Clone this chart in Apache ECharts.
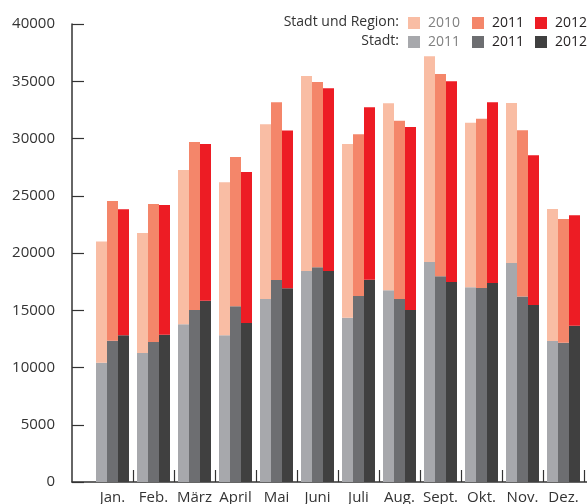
<!DOCTYPE html>
<html>
<head>
<meta charset="utf-8">
<script src="https://cdn.jsdelivr.net/npm/echarts@6/dist/echarts.min.js"></script>
<style>
  html, body { margin: 0; padding: 0; background: #fff; }
  #chart { width: 587px; height: 504px; }
</style>
</head>
<body>
<div id="chart"></div>
<script>
// Monate
const months = ['Jan.', 'Feb.', 'März', 'April', 'Mai', 'Juni', 'Juli', 'Aug.', 'Sept.', 'Okt.', 'Nov.', 'Dez.']

// Stadt und Region (Gesamthöhe der Säule)
const region2010 = [21000, 21750, 27250, 26170, 31240, 35460, 29520, 33070, 37180, 31380, 33100, 23840]
const region2011 = [24540, 24280, 29700, 28390, 33160, 34940, 30370, 31560, 35630, 31730, 30720, 22970]
const region2012 = [23820, 24190, 29520, 27080, 30690, 34380, 32720, 31010, 34990, 33160, 28530, 23290]

// Stadt (unterer, grauer Teil)
const stadt2010 = [10420, 11270, 13770, 12810, 15980, 18430, 14350, 16740, 19220, 17000, 19130, 12320]
const stadt2011 = [12340, 12230, 15020, 15340, 17640, 18750, 16250, 15980, 17960, 16940, 16190, 12170]
const stadt2012 = [12810, 12870, 15840, 13890, 16920, 18430, 17670, 15020, 17470, 17380, 15460, 13650]

// Legendentexte (wie im Original)
const regionLabels = ['2010', '2011', '2012']
const stadtLabels = ['2011', '2011', '2012']

const yTicks = { min: 0, max: 40000, interval: 5000 }

const regionColors = ['#f9bda4', '#f4866a', '#ed1c24']
const stadtColors = ['#a7a8ac', '#6d6e71', '#404040']

const regions = [region2010, region2011, region2012]
const stadts = [stadt2010, stadt2011, stadt2012]
const rNames = ['R2010', 'R2011', 'R2012']
const sNames = ['S2010', 'S2011', 'S2012']

const font = 'Open Sans'
const labelMap = {}
rNames.forEach((n, i) => { labelMap[n] = regionLabels[i] })
sNames.forEach((n, i) => { labelMap[n] = stadtLabels[i] })

const series = []
for (let i = 0; i < 3; i++) {
  series.push({
    name: sNames[i],
    type: 'bar',
    stack: 'g' + i,
    xAxisIndex: 1,
    yAxisIndex: 1,
    barWidth: 11,
    barGap: '0%',
    itemStyle: { color: stadtColors[i] },
    silent: true,
    data: stadts[i]
  })
  series.push({
    name: rNames[i],
    type: 'bar',
    stack: 'g' + i,
    xAxisIndex: 1,
    yAxisIndex: 1,
    barWidth: 11,
    barGap: '0%',
    itemStyle: { color: regionColors[i] },
    silent: true,
    data: regions[i].map((v, k) => v - stadts[i][k])
  })
}

// eine Legende pro Eintrag, damit die Spalten exakt sitzen
const legendCols = [408, 472, 535]
const legends = []
function addLegends(top, names) {
  names.forEach((n, i) => {
    legends.push({
      left: legendCols[i],
      top: top,
      padding: 0,
      itemWidth: 12,
      itemHeight: 12,
      icon: 'rect',
      selectedMode: false,
      textStyle: i === 0
        ? { fontSize: 14, fontFamily: font, color: '#808080', padding: [0, 0, 0, 3] }
        : { fontSize: 14, fontFamily: font, color: '#231f20', fontWeight: 500, padding: [0, 0, 0, 3] },
      formatter: (name) => labelMap[name],
      data: [n]
    })
  })
}
addLegends(16, rNames)
addLegends(35, sNames)

const chart = echarts.init(document.getElementById('chart'))
chart.setOption({
  animation: false,
  textStyle: { fontFamily: font },
  grid: [
    { left: 72, right: 0, top: 24, bottom: 22, outerBoundsMode: 'none' },
    { left: 92, right: 3, top: 24, bottom: 22, outerBoundsMode: 'none' }
  ],
  xAxis: [{
    gridIndex: 0,
    type: 'value',
    min: 0,
    max: 1,
    axisLine: { show: true, lineStyle: { color: '#333', width: 1.5 } },
    axisTick: { show: false },
    axisLabel: { show: false },
    splitLine: { show: false }
  }, {
    gridIndex: 1,
    type: 'category',
    data: months,
    axisLine: { show: false },
    axisTick: {
      show: true,
      inside: true,
      length: 12,
      interval: (index) => index !== 0,
      lineStyle: { color: '#333', width: 1.2 }
    },
    axisLabel: { color: '#333', fontSize: 15, margin: 8, fontFamily: font, interval: 0 },
    splitLine: { show: false }
  }],
  yAxis: [{
    gridIndex: 0,
    type: 'value',
    min: yTicks.min,
    max: yTicks.max,
    interval: yTicks.interval,
    axisLine: { show: true, lineStyle: { color: '#333', width: 1.5 } },
    axisTick: { show: true, inside: true, length: 12, lineStyle: { color: '#333', width: 1.2 } },
    axisLabel: { color: '#333', fontSize: 15, margin: 17, fontFamily: font, formatter: (v) => String(v) },
    splitLine: { show: false }
  }, {
    gridIndex: 1,
    type: 'value',
    min: yTicks.min,
    max: yTicks.max,
    interval: yTicks.interval,
    show: false
  }],
  legend: legends,
  graphic: [{
    type: 'text',
    x: 399,
    y: 22,
    style: { text: 'Stadt und Region:', fill: '#333', font: '14px "Open Sans"', align: 'right', verticalAlign: 'middle' }
  }, {
    type: 'text',
    x: 399,
    y: 41,
    style: { text: 'Stadt:', fill: '#333', font: '14px "Open Sans"', align: 'right', verticalAlign: 'middle' }
  }],
  series: series
})
</script>
</body>
</html>
